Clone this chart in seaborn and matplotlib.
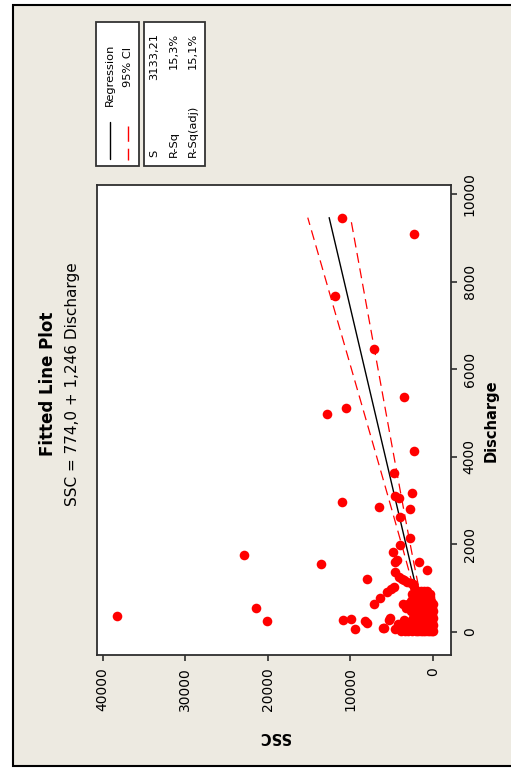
import numpy as np
import pandas as pd
import matplotlib
matplotlib.use("Agg")
import matplotlib.pyplot as plt
from matplotlib.patches import Rectangle
from matplotlib.lines import Line2D
import seaborn as sns

# ---------------- data ----------------
# scattered observations: SSC and Discharge
scatter_ssc = [11010, 2310, 11820, 7170, 3440, 10520, 12790, 2310, 4740, 2590,
               4650, 4130, 11010, 6475, 2790, 3925, 2790, 3925, 4880, 22840,
               13560, 4330, 4530, 1700, 680, 4530, 4130, 3720, 3520, 3100,
               2710, 2400, 7970, 4740, 2310, 5020, 5540, 6355, 7170, 21460,
               38270, 20120, 10890, 9880, 9390, 8180, 7950, 6030, 5140, 5350,
               4650, 3520, 5950, 4200]
scatter_discharge = [9460, 9090, 7670, 6450, 5365, 5120, 4970, 4125, 3630, 3180,
                     3110, 3050, 2975, 2845, 2815, 2630, 2150, 1975, 1830, 1760,
                     1545, 1645, 1605, 1605, 1415, 1375, 1263, 1220, 1187, 1150,
                     1126, 1090, 1220, 1035, 1035, 980, 920, 775, 650, 555,
                     372, 244, 275, 300, 60, 250, 215, 100, 313, 274,
                     70, 275, 85, 180]

# dense cluster near the origin, one row of SSC values per discharge level
cluster_discharge = [20, 80, 150, 230, 310, 390, 470, 550, 630, 710, 790, 870, 930]
cluster_ssc = [
    [0, 150, 350, 600, 900, 1200, 1500, 1800, 2100, 2500, 3000, 3400, 3900],
    [50, 250, 500, 800, 1100, 1400, 1700, 2000, 2400, 2800, 3300, 4100],
    [0, 200, 450, 700, 1000, 1300, 1600, 1900, 2300, 2700, 3200, 3700],
    [100, 350, 600, 900, 1200, 1500, 1800, 2200, 2600, 3000],
    [0, 250, 500, 800, 1100, 1400, 1700, 2000, 2400],
    [150, 400, 700, 1000, 1300, 1600, 1900, 2300],
    [0, 300, 550, 850, 1150, 1450, 1800, 2200, 2600],
    [100, 400, 700, 1000, 1300, 1650, 2000, 2400, 3300],
    [0, 300, 600, 900, 1200, 1500, 1900, 2300, 3000, 3600],
    [200, 500, 800, 1100, 1450, 1800, 2200, 2700],
    [300, 600, 900, 1250, 1600, 2000, 2400],
    [400, 700, 1000, 1300, 1700, 2100, 2500],
    [700, 1100, 1500, 1900],
]

# regression results shown on the chart
intercept = 774.0
slope = 1.246
s_value = 3133.21
n_obs = 426
x_mean = 500.0
sxx = 4.6e8
t_crit = 1.966

ssc_ticks = [0, 10000, 20000, 30000, 40000]
discharge_ticks = [0, 2000, 4000, 6000, 8000, 10000]

title_text = "Fitted Line Plot"
subtitle_text = "SSC = 774,0 + 1,246 Discharge"
legend_labels = ["Regression", "95% CI"]
stat_names = ["S", "R-Sq", "R-Sq(adj)"]
stat_values = ["3133,21", "15,3%", "15,1%"]

# ---------------- build tables ----------------
all_ssc = list(scatter_ssc)
all_dis = list(scatter_discharge)
for d, row in zip(cluster_discharge, cluster_ssc):
    all_ssc.extend(row)
    all_dis.extend([d] * len(row))
points = pd.DataFrame({"SSC": all_ssc, "Discharge": all_dis})

d_line = np.sort(np.unique(points["Discharge"].to_numpy()))
fit = intercept + slope * d_line
half = t_crit * s_value * np.sqrt(1.0 / n_obs + (d_line - x_mean) ** 2 / sxx)
fit_df = pd.DataFrame({"Discharge": d_line, "fit": fit,
                       "lo": fit - half, "hi": fit + half})

# ---------------- figure ----------------
sns.set_style("white")
plt.rcParams["font.family"] = ["DejaVu Sans"]
plt.rcParams["text.color"] = "black"
plt.rcParams["xtick.labelcolor"] = "black"
plt.rcParams["ytick.labelcolor"] = "black"

W, H = 511, 768
fig = plt.figure(figsize=(W / 100, H / 100), dpi=100, facecolor="white")

def fx(px):
    return px / W

def fy(py):
    return 1 - py / H

BG = "#EDEAE1"
fig.add_artist(Rectangle((fx(12.5), fy(765.5)), 1.0, fy(4.5) - fy(765.5),
                         transform=fig.transFigure, facecolor=BG,
                         edgecolor="black", lw=1.5, zorder=-10))

ax = fig.add_axes([fx(97), fy(655), (451 - 97) / W, (655 - 185) / H])
ax.set_facecolor("white")

sns.lineplot(data=fit_df, x="fit", y="Discharge", color="black", lw=1.0,
             sort=False, estimator=None, ax=ax, zorder=2)
for col in ["lo", "hi"]:
    sns.lineplot(data=fit_df, x=col, y="Discharge", color="#FF0000", lw=0.9,
                 linestyle=(0, (8, 4.5)), sort=False, estimator=None, ax=ax,
                 zorder=2)
sns.scatterplot(data=points, x="SSC", y="Discharge", color="#FF0000", s=48,
                linewidth=0, ax=ax, zorder=3, legend=False)

ax.set_xlim(40670, -2190)
ax.set_ylim(-525, 10205)
ax.set_xlabel("")
ax.set_ylabel("")

spine_c = "#2e2e2e"
for sp in ax.spines.values():
    sp.set_color(spine_c)
    sp.set_linewidth(1.3)

ax.set_xticks(ssc_ticks, labels=[str(v) for v in ssc_ticks])
ax.yaxis.tick_right()
ax.set_yticks(discharge_ticks, labels=[str(v) for v in discharge_ticks])
ax.tick_params(axis="x", direction="out", length=4, width=1.2, color=spine_c,
               pad=4.5, labelrotation=90, labelsize=10, bottom=True,
               labelcolor="black")
ax.tick_params(axis="y", direction="out", length=4, width=1.2, color=spine_c,
               pad=4.5, labelrotation=90, labelsize=10, right=True, left=False,
               labelright=True, labelleft=False, labelcolor="black")
for lbl in ax.get_yticklabels():
    lbl.set_va("center")

# titles and axis labels (whole chart is turned a quarter turn)
fig.text(fx(48), 0.5, title_text, rotation=90, ha="center", va="center",
         fontsize=12, fontweight="bold", color="black")
fig.text(fx(73), 0.5, subtitle_text, rotation=90, ha="center", va="center",
         fontsize=11, color="black")
fig.text(fx(491), fy(421), "Discharge", rotation=90, ha="center", va="center",
         fontsize=10.5, fontweight="bold", color="black")
fig.text(fx(274), fy(736), "SSC", rotation=180, ha="center", va="center",
         fontsize=10.5, fontweight="bold", color="black")

# legend boxes
box_kw = dict(transform=fig.transFigure, facecolor="white", edgecolor="#333333",
              lw=1.3, zorder=1)
fig.add_artist(Rectangle((fx(96), fy(166)), (139 - 96) / W, (166 - 22) / H, **box_kw))
fig.add_artist(Rectangle((fx(144), fy(166)), (205 - 144) / W, (166 - 22) / H, **box_kw))

fig.add_artist(Line2D([fx(110), fx(110)], [fy(122), fy(159)], color="black",
                      lw=1.0, transform=fig.transFigure, zorder=2))
fig.add_artist(Line2D([fx(128), fx(128)], [fy(126), fy(160)], color="#FF0000",
                      lw=1.0, linestyle=(0, (11, 5)), transform=fig.transFigure,
                      zorder=2))
fs = 8.2
fig.text(fx(110), fy(44), legend_labels[0], rotation=90, ha="center", va="top",
         fontsize=fs, zorder=3, color="black")
fig.text(fx(128), fy(47), legend_labels[1], rotation=90, ha="center", va="top",
         fontsize=fs, zorder=3, color="black")
for xpos, name, val in zip([154, 174, 193], stat_names, stat_values):
    fig.text(fx(xpos), fy(157), name, rotation=90, ha="center", va="bottom",
             fontsize=fs, zorder=3, color="black")
    fig.text(fx(xpos), fy(33), val, rotation=90, ha="center", va="top",
             fontsize=fs, zorder=3, color="black")

fig.savefig("out.png", dpi=100)
